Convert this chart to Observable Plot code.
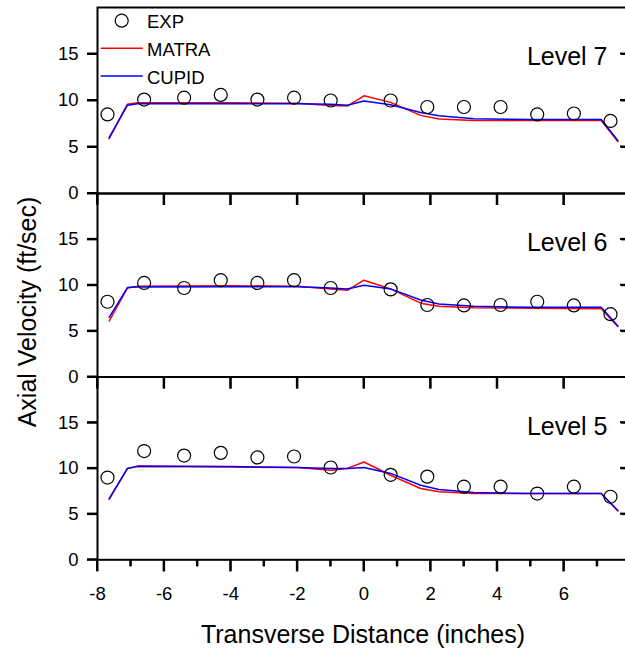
<!DOCTYPE html>
<html>
<head>
<meta charset="utf-8">
<script src="https://cdn.jsdelivr.net/npm/d3@7"></script>
<script src="https://cdn.jsdelivr.net/npm/@observablehq/plot@0.6"></script>
<style>
  html, body { margin: 0; padding: 0; background: white; overflow: hidden; }
  #wrap { position: relative; width: 625px; height: 650px; overflow: hidden; background: white; }
  #wrap > svg { position: absolute; left: 0; top: 0; }
</style>
</head>
<body>
<div id="wrap"></div>
<script>
// ---- data ----
const levels = ["Level 7", "Level 6", "Level 5"];

// experimental points (EXP)
const xExp = [-7.7, -6.6, -5.4, -4.3, -3.2, -2.1, -1.0, 0.8, 1.9, 3.0, 4.1, 5.2, 6.3, 7.4];
const exp7 = [8.5, 10.1, 10.3, 10.6, 10.1, 10.3, 10.0, 10.0, 9.3, 9.3, 9.3, 8.5, 8.6, 7.8];
const exp6 = [8.2, 10.25, 9.7, 10.55, 10.25, 10.55, 9.7, 9.55, 7.85, 7.8, 7.85, 8.2, 7.8, 6.85];
const exp5 = [9.0, 11.9, 11.4, 11.7, 11.2, 11.3, 10.1, 9.3, 9.1, 8.0, 8.0, 7.25, 8.0, 6.9];

// model curves (MATRA, CUPID)
const xModel = [-7.65, -7.1, -6.8, -4.0, -2.0, -1.0, -0.5, 0.0, 0.8, 1.7, 2.25, 3.3, 5.0, 7.12, 7.62];
const matra7 = [5.9, 9.6, 9.75, 9.75, 9.7, 9.45, 9.4, 10.5, 9.8, 8.4, 8.0, 7.85, 7.85, 7.85, 5.6];
const cupid7 = [6.0, 9.5, 9.65, 9.65, 9.65, 9.6, 9.5, 9.95, 9.55, 8.7, 8.35, 8.05, 7.95, 7.95, 5.7];
const matra6 = [6.1, 9.7, 9.9, 9.95, 9.9, 9.6, 9.45, 10.55, 9.6, 8.05, 7.7, 7.55, 7.5, 7.45, 5.5];
const cupid6 = [6.5, 9.75, 9.8, 9.85, 9.85, 9.7, 9.6, 10.0, 9.6, 8.4, 7.95, 7.7, 7.6, 7.6, 5.55];
const matra5 = [6.6, 10.0, 10.2, 10.15, 10.1, 9.8, 10.0, 10.7, 9.25, 7.8, 7.45, 7.25, 7.25, 7.25, 5.35];
const cupid5 = [6.7, 10.0, 10.25, 10.2, 10.1, 10.0, 10.0, 10.1, 9.45, 8.15, 7.7, 7.35, 7.25, 7.25, 5.4];

// axes
const xDomain = [-8, 8];
const yDomain = [0, 20];
const yTicksLeft = [0, 5, 10, 15];
const yTicksRight = [5, 10, 15];
const xMajor = [-8, -6, -4, -2, 0, 2, 4, 6, 8];
const xMinor = [-7, -5, -3, -1, 1, 3, 5, 7];

const seriesNames = ["EXP", "MATRA", "CUPID"];
const xTitle = "Transverse Distance (inches)";
const yTitle = "Axial Velocity (ft/sec)";

// ---- build tables ----
const expByLevel = [exp7, exp6, exp5];
const matraByLevel = [matra7, matra6, matra5];
const cupidByLevel = [cupid7, cupid6, cupid5];

const FONT = "'Liberation Sans', Arial, Helvetica, sans-serif";
const RED = "#ff0000";
const BLUE = "#0000ff";
const fmt = d => String(d);
const blank = () => "";

// panel frame edges (px)
const W = 640, H = 650;
const panelTops = [7, 193, 376.5];
const panelBottoms = [193, 376.5, 559.3];

const wrap = document.getElementById("wrap");
const panels = [];

levels.forEach((lv, i) => {
  const isLast = i === levels.length - 1;
  const expRows = xExp.map((x, j) => ({x, y: expByLevel[i][j]}));
  const matraRows = xModel.map((x, j) => ({x, y: matraByLevel[i][j]}));
  const cupidRows = xModel.map((x, j) => ({x, y: cupidByLevel[i][j]}));
  const marks = [
    Plot.line(matraRows, {x: "x", y: "y", stroke: RED, strokeWidth: 1.5}),
    Plot.line(cupidRows, {x: "x", y: "y", stroke: BLUE, strokeWidth: 1.5}),
    Plot.dot(expRows, {x: "x", y: "y", r: 6.5, stroke: "black", strokeWidth: 1.2, fill: "none"}),
    Plot.text([lv], {text: d => d, frameAnchor: "top-right", dx: -23, dy: 40, fontSize: 25, fill: "black"}),
    Plot.axisY({anchor: "left", ticks: yTicksLeft, tickSize: 10, tickPadding: 9, tickFormat: fmt, strokeWidth: 2, label: null}),
    Plot.axisY({anchor: "right", ticks: yTicksRight, tickSize: 10, dx: -10, tickFormat: blank, strokeWidth: 2, label: null}),
    isLast
      ? Plot.axisX({anchor: "bottom", ticks: xMajor, tickSize: 12, tickPadding: 15, tickFormat: fmt, strokeWidth: 2, label: null})
      : Plot.axisX({anchor: "bottom", ticks: xMajor, tickSize: 12, tickFormat: blank, strokeWidth: 2, label: null}),
    Plot.frame({stroke: "black", strokeWidth: 2})
  ];
  if (isLast) marks.push(Plot.axisX({anchor: "bottom", ticks: xMinor, tickSize: 7, tickFormat: blank, strokeWidth: 2, label: null}));
  const p = Plot.plot({
    width: W,
    height: H,
    marginTop: panelTops[i],
    marginBottom: H - panelBottoms[i],
    marginLeft: 97,
    marginRight: 10,
    x: {domain: xDomain},
    y: {domain: yDomain},
    style: {fontFamily: FONT, fontSize: "18.5px", color: "black", background: "transparent", maxWidth: "none", overflow: "visible"},
    marks
  });
  wrap.appendChild(p);
  panels.push(p);
});

// ---- overlay: tick marks (positioned with each panel's Plot scales), legend, axis titles ----
const ov = d3.select(wrap).append("svg")
  .attr("width", 625).attr("height", 650)
  .attr("font-family", FONT);

try {
  const tg = ov.append("g").attr("stroke", "black").attr("stroke-width", 2);
  panels.forEach((p, i) => {
    const sx = p.scale("x"), sy = p.scale("y");
    const X = v => sx.apply(v), Y = v => sy.apply(v);
    const xl = X(xDomain[0]), xr = X(xDomain[1]), yb = Y(yDomain[0]);
    yTicksLeft.forEach(v => tg.append("line").attr("x1", xl - 10).attr("x2", xl).attr("y1", Y(v)).attr("y2", Y(v)));
    yTicksRight.forEach(v => tg.append("line").attr("x1", xr - 10).attr("x2", xr).attr("y1", Y(v)).attr("y2", Y(v)));
    xMajor.forEach(v => tg.append("line").attr("x1", X(v)).attr("x2", X(v)).attr("y1", yb).attr("y2", yb + 12));
    if (i === panels.length - 1) {
      xMinor.forEach(v => tg.append("line").attr("x1", X(v)).attr("x2", X(v)).attr("y1", yb).attr("y2", yb + 7));
    }
  });
} catch (e) { /* keep the rest of the figure */ }

const leg = ov.append("g");
leg.append("circle").attr("cx", 121.7).attr("cy", 20.7).attr("r", 6.5)
  .attr("fill", "none").attr("stroke", "black").attr("stroke-width", 1.2);
leg.append("text").attr("x", 147).attr("y", 28).attr("font-size", 18.5).text(seriesNames[0]);
leg.append("line").attr("x1", 100.7).attr("x2", 142.7).attr("y1", 48.3).attr("y2", 48.3)
  .attr("stroke", RED).attr("stroke-width", 1.5);
leg.append("text").attr("x", 147).attr("y", 56).attr("font-size", 18.5).text(seriesNames[1]);
leg.append("line").attr("x1", 100.7).attr("x2", 142.7).attr("y1", 76).attr("y2", 76)
  .attr("stroke", BLUE).attr("stroke-width", 1.5);
leg.append("text").attr("x", 147).attr("y", 83.5).attr("font-size", 18.5).text(seriesNames[2]);

ov.append("text").attr("x", 363).attr("y", 643).attr("text-anchor", "middle")
  .attr("font-size", 25).text(xTitle);
ov.append("text").attr("transform", "translate(36,312) rotate(-90)").attr("text-anchor", "middle")
  .attr("font-size", 25).text(yTitle);
</script>
</body>
</html>
